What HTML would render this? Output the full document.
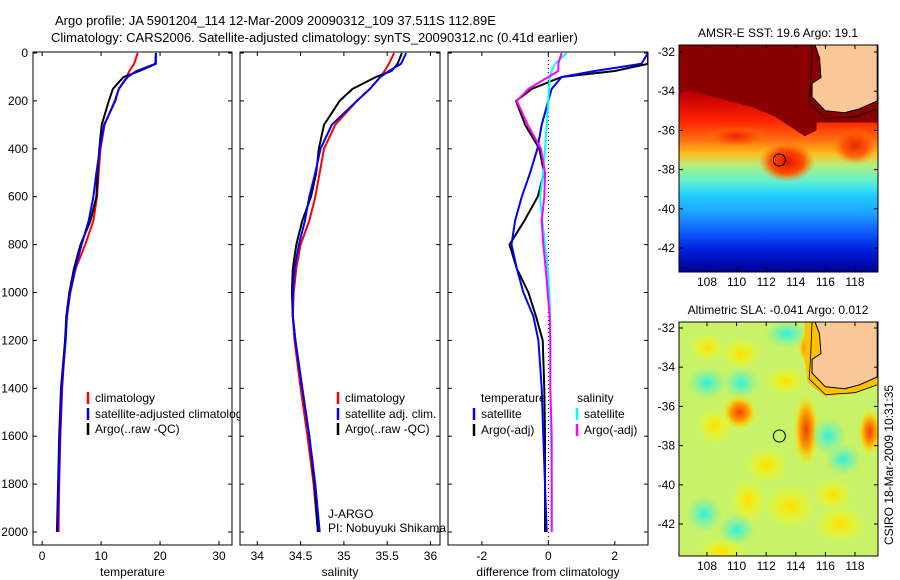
<!DOCTYPE html>
<html><head><meta charset="utf-8"><style>
body{margin:0;background:#fff}
svg{display:block;font-family:"Liberation Sans",sans-serif}
</style></head><body>
<svg id="fig" width="900" height="580" viewBox="0 0 900 580" xmlns="http://www.w3.org/2000/svg">
<defs>
<linearGradient id="sstg" x1="0" y1="0" x2="0" y2="1">
<stop offset="0" stop-color="#a00000"/><stop offset="0.22" stop-color="#c00000"/>
<stop offset="0.33" stop-color="#ff2000"/><stop offset="0.42" stop-color="#ff7010"/>
<stop offset="0.48" stop-color="#ffc020"/><stop offset="0.53" stop-color="#b0f080"/>
<stop offset="0.6" stop-color="#60f0d0"/><stop offset="0.66" stop-color="#20d0ff"/>
<stop offset="0.74" stop-color="#20a0ff"/><stop offset="0.82" stop-color="#1060ff"/>
<stop offset="0.9" stop-color="#0020e0"/><stop offset="1" stop-color="#000090"/></linearGradient>
<radialGradient id="bOr"><stop offset="0" stop-color="#f04000"/><stop offset="0.5" stop-color="#ffa000"/><stop offset="1" stop-color="#ffff00" stop-opacity="0"/></radialGradient>
<radialGradient id="bYe"><stop offset="0" stop-color="#ffe000"/><stop offset="1" stop-color="#ffff00" stop-opacity="0"/></radialGradient>
<radialGradient id="bCy"><stop offset="0" stop-color="#30f0e0"/><stop offset="1" stop-color="#60f0c0" stop-opacity="0"/></radialGradient>
<radialGradient id="bRd"><stop offset="0" stop-color="#e01000"/><stop offset="0.6" stop-color="#ff5000"/><stop offset="1" stop-color="#ff8000" stop-opacity="0"/></radialGradient>
<clipPath id="c1"><rect x="679" y="45" width="199" height="227"/></clipPath>
<clipPath id="c2"><rect x="679" y="322" width="199" height="234"/></clipPath>
</defs>
<text x="55" y="25" font-size="13">Argo profile: JA 5901204_114 12-Mar-2009 20090312_109 37.511S 112.89E</text>
<text x="51" y="42" font-size="13">Climatology: CARS2006. Satellite-adjusted climatology: synTS_20090312.nc (0.41d earlier)</text>
<g id="panels"></g>
<g id="maps"></g>
<text font-size="12" transform="translate(893,545) rotate(-90)">CSIRO 18-Mar-2009 10:31:35</text>
</svg>
<script>
const depths=[0,45,75,100,150,200,300,400,500,600,700,800,900,1000,1100,1200,1400,1600,1800,2000];
const tempClim=[16.2,15.6,14.8,14.3,13.0,12.3,10.6,9.9,9.6,9.3,8.7,7.3,5.7,4.8,4.2,3.9,3.4,3.1,2.9,2.8];
const tempSat=[19.3,19.2,16.0,14.5,13.0,12.4,10.5,9.8,9.2,8.7,7.9,6.7,5.6,4.7,4.2,4.0,3.3,3.0,2.8,2.6];
const tempArgo=[19.3,19.3,16.5,13.8,12.0,11.3,10.1,9.7,9.4,9.2,8.2,6.5,5.4,4.6,4.1,3.9,3.2,2.9,2.7,2.5];
const salClim=[35.58,35.52,35.47,35.42,35.3,35.15,34.9,34.77,34.72,34.67,34.6,34.5,34.45,34.42,34.41,34.43,34.5,34.58,34.65,34.7];
const salSat=[35.72,35.66,35.52,35.42,35.3,35.15,34.86,34.73,34.67,34.6,34.55,34.48,34.43,34.41,34.41,34.44,34.52,34.6,34.67,34.72];
const salArgo=[35.67,35.62,35.55,35.37,35.1,34.95,34.77,34.71,34.68,34.62,34.52,34.45,34.41,34.4,34.41,34.44,34.52,34.6,34.66,34.7];
const dTempSat=[3.0,2.8,1.4,0.4,0.1,0.0,-0.2,-0.33,-0.55,-0.8,-1.0,-1.11,-0.95,-0.75,-0.45,-0.3,-0.2,-0.15,-0.1,-0.05];
const dTempArgo=[3.0,3.0,2.0,0.4,-0.5,-0.97,-0.7,-0.27,-0.13,-0.32,-0.72,-1.17,-0.95,-0.6,-0.37,-0.17,-0.12,-0.1,-0.1,-0.1];
const dSalSat=[0.55,0.2,0.1,0.05,0.02,0,-0.05,-0.1,-0.15,-0.25,-0.18,-0.1,-0.02,0.03,0.06,0.06,0.06,0.08,0.1,0.1];
const dSalArgo=[0.4,0.3,0.3,0.0,-0.6,-0.95,-0.62,-0.22,-0.1,-0.12,-0.2,-0.15,-0.08,-0.02,0.04,0.06,0.06,0.1,0.1,0.1];
const depthTicks=[0,200,400,600,800,1000,1200,1400,1600,1800,2000];
const tempTicks=[0,10,20,30];
const salTicks=[34,34.5,35,35.5,36];
const salTickLabels=["34","34.5","35","35.5","36"];
const diffTicks=[-2,0,2];
const lonTicks=[108,110,112,114,116,118];
const latTicks=[-32,-34,-36,-38,-40,-42];
const argoPos=[112.89,-37.511];

const NS='http://www.w3.org/2000/svg';
function mk(tag,attrs,parent){const e=document.createElementNS(NS,tag);for(const k in attrs)e.setAttribute(k,attrs[k]);parent.appendChild(e);return e;}
const yD=d=>53+d*0.2395;
const TOP=52,BOT=545;
const panelsG=document.getElementById('panels');
const panels=[
 {name:'temperature',x0:33,x1:232,v0:-1.55,v1:32.2,ticks:tempTicks,labels:tempTicks.map(String),xlabel:'temperature'},
 {name:'salinity',x0:240,x1:440,v0:33.8,v1:36.11,ticks:salTicks,labels:salTickLabels,xlabel:'salinity'},
 {name:'difference',x0:448,x1:648,v0:-3.02,v1:3.0,ticks:diffTicks,labels:diffTicks.map(String),xlabel:'difference from climatology'}];
function line(g,p,vals,color,name,w){
 const sx=v=>p.x0+(v-p.v0)/(p.v1-p.v0)*(p.x1-p.x0);
 let d='';vals.forEach((v,i)=>{d+=(i?'L':'M')+sx(v).toFixed(1)+','+yD(depths[i]).toFixed(1);});
 const e=mk('path',{d:d,fill:'none',stroke:color,'stroke-width':w||2,'stroke-linejoin':'round'},g);
 
 
}
function legend(g,x,y,color,txt,name){
 if(color){const m=mk('line',{x1:x,y1:y-10,x2:x,y2:y+2,stroke:color,'stroke-width':2.5},g);
 
 }
 const t=mk('text',{x:x+7,y:y,'font-size':12},g);t.textContent=txt;
 
 
}
panels.forEach((p,pi)=>{
 const g=mk('g',{},panelsG);
 
 
 mk('rect',{x:p.x0,y:TOP,width:p.x1-p.x0,height:BOT-TOP,fill:'#fff',stroke:'none'},g);
 const sx=v=>p.x0+(v-p.v0)/(p.v1-p.v0)*(p.x1-p.x0);
 const cp=mk('clipPath',{id:'pc'+pi},g);mk('rect',{x:p.x0,y:TOP,width:p.x1-p.x0,height:BOT-TOP},cp);
 const lg=mk('g',{'clip-path':'url(#pc'+pi+')'},g);
 if(pi==0){line(lg,p,tempClim,'#f00','temp-climatology-line');line(lg,p,tempArgo,'#000','temp-argo-line');line(lg,p,tempSat,'#00f','temp-satellite-line');
  legend(g,88,402,'#f00','climatology','legend-climatology');legend(g,88,418,'#00f','satellite-adjusted climatology','legend-satellite');legend(g,88,433,'#000','Argo(..raw -QC)','legend-argo');}
 if(pi==1){line(lg,p,salClim,'#f00','sal-climatology-line');line(lg,p,salArgo,'#000','sal-argo-line');line(lg,p,salSat,'#00f','sal-satellite-line');
  legend(g,338,402,'#f00','climatology','legend-climatology-sal');legend(g,338,418,'#00f','satellite adj. clim.','legend-satellite-sal');legend(g,338,433,'#000','Argo(..raw -QC)','legend-argo-sal');
  const t1=mk('text',{x:328,y:518,'font-size':12},g);t1.textContent='J-ARGO';
  const t2=mk('text',{x:328,y:532,'font-size':12},g);t2.textContent='PI: Nobuyuki Shikama';}
 if(pi==2){mk('line',{x1:sx(0),y1:TOP,x2:sx(0),y2:BOT,stroke:'#000','stroke-width':1,'stroke-dasharray':'1,3'},lg);
  line(lg,p,dTempArgo,'#000','diff-temp-argo-line');line(lg,p,dTempSat,'#00f','diff-temp-satellite-line');line(lg,p,dSalSat,'#0ff','diff-sal-satellite-line');line(lg,p,dSalArgo,'#f0f','diff-sal-argo-line');
  legend(g,474,402,null,'temperature','legend-temperature-header');legend(g,570,402,null,'salinity','legend-salinity-header');
  legend(g,474,418,'#00f','satellite','legend-temp-satellite');legend(g,474,434,'#000','Argo(-adj)','legend-temp-argo');
  legend(g,577,418,'#0ff','satellite','legend-sal-satellite');legend(g,577,434,'#f0f','Argo(-adj)','legend-sal-argo');}
 mk('rect',{x:p.x0,y:TOP,width:p.x1-p.x0,height:BOT-TOP,fill:'none',stroke:'#000','stroke-width':1},g);
 depthTicks.forEach(d=>{mk('line',{x1:p.x0,y1:yD(d),x2:p.x0+4,y2:yD(d),stroke:'#000'},g);mk('line',{x1:p.x1,y1:yD(d),x2:p.x1-4,y2:yD(d),stroke:'#000'},g);
  if(pi==0){const t=mk('text',{x:p.x0-5,y:yD(d)+4,'font-size':12,'text-anchor':'end'},g);t.textContent=d;}});
 p.ticks.forEach((v,i)=>{const x=sx(v);mk('line',{x1:x,y1:BOT,x2:x,y2:BOT-4,stroke:'#000'},g);mk('line',{x1:x,y1:TOP,x2:x,y2:TOP+4,stroke:'#000'},g);
  const t=mk('text',{x:x,y:560,'font-size':12,'text-anchor':'middle'},g);t.textContent=p.labels[i];});
 const xl=mk('text',{x:(p.x0+p.x1)/2,y:576,'font-size':12,'text-anchor':'middle'},g);xl.textContent=p.xlabel;
 
 
});

// maps
const mapsG=document.getElementById('maps');
const mx=lon=>707+(lon-108)*14.8;
function drawMap(top,bot,title,kind){
 const g=mk('g',{},mapsG);
 
 
 const lat0=top===45?52:328;
 const my=lat=>lat0+(-32-lat)*19.6;
 const inner=mk('g',{'clip-path':kind==='sst'?'url(#c1)':'url(#c2)'},g);
 if(kind==='sst'){
  mk('rect',{x:679,y:top,width:199,height:bot-top,fill:'url(#sstg)'},inner);
  mk('path',{d:`M679,${top}L${mx(115.4)},${top}L${mx(115.4)},${my(-36.0)}L${mx(114.6)},${my(-36.3)}L${mx(113.6)},${my(-35.8)}L${mx(112.6)},${my(-35.3)}L${mx(111)},${my(-34.8)}L${mx(109)},${my(-34.4)}L${mx(107.5)},${my(-34.1)}L679,${my(-33.9)}Z`,fill:'#8a0000'},inner);
  mk('rect',{x:mx(115.2),y:top,width:100,height:my(-35.6)-top,fill:'#8a0000'},inner);
  mk('ellipse',{cx:mx(113.4),cy:my(-37.6),rx:28,ry:20,fill:'url(#bRd)'},inner);
  mk('ellipse',{cx:mx(118),cy:my(-36.8),rx:22,ry:18,fill:'url(#bRd)',opacity:0.8},inner);
  mk('ellipse',{cx:mx(110),cy:my(-36.3),rx:30,ry:10,fill:'url(#bRd)',opacity:0.7},inner);
 }else{
  mk('rect',{x:679,y:top,width:199,height:bot-top,fill:'#c8f268'},inner);
  [[108,-33,18,14,'bYe'],[110.3,-33.3,20,16,'bYe'],[113.3,-34.7,20,14,'bYe'],[108,-34.8,20,16,'bCy'],[110.3,-34.8,18,16,'bCy'],[113.4,-32.3,22,14,'bCy'],
   [110.2,-36.3,18,18,'bOr'],[114.7,-37.2,13,38,'bOr'],[114.9,-33,12,18,'bOr'],[116.2,-37.5,18,18,'bCy'],[117.2,-38.7,18,16,'bCy'],
   [112,-39,22,18,'bYe'],[113.6,-41.1,26,22,'bYe'],[110.8,-40.8,18,22,'bYe'],[107.8,-41.5,18,18,'bCy'],[110,-42.3,18,16,'bCy'],[109,-43.4,24,14,'bYe'],[119,-37.3,12,24,'bOr'],[117,-42,26,18,'bYe'],[116.5,-40.5,20,16,'bYe'],[108.5,-37,18,18,'bYe']]
   .forEach(b=>mk('ellipse',{cx:mx(b[0]),cy:my(b[1]),rx:b[2],ry:b[3],fill:`url(#${b[4]})`},inner));
  mk('path',{d:`M${mx(114.6)},${top}L${mx(114.6)},${my(-33.6)}L${mx(114.8)},${my(-34.8)}L${mx(116)},${my(-35.5)}L${mx(118)},${my(-35.3)}L${mx(119.5)},${my(-34.9)}L${mx(119.5)},${top}Z`,fill:'#ffc000'},inner);
 }
 mk('path',{d:`M${mx(115.3)},${top}L${mx(115.6)},${my(-32.3)}L${mx(115.7)},${my(-33.3)}L${mx(115.1)},${my(-33.6)}L${mx(115.1)},${my(-34.3)}L${mx(116)},${my(-35)}L${mx(117.3)},${my(-35.1)}L${mx(118.3)},${my(-34.9)}L${mx(119.5)},${my(-34.5)}L${mx(119.5)},${top}Z`,fill:'#fac896',stroke:'#000','stroke-width':1},inner);
 mk('path',{d:`M${mx(115.1)},${top}L${mx(115.0)},${my(-33.5)}L${mx(114.9)},${my(-34.6)}L${mx(116)},${my(-35.4)}L${mx(118)},${my(-35.3)}L${mx(119.5)},${my(-34.9)}`,fill:'none',stroke:'#000','stroke-width':0.8},inner);
 const c=mk('circle',{cx:mx(argoPos[0]),cy:my(argoPos[1]),r:6,fill:'none',stroke:'#000','stroke-width':1},inner);
 
 
 mk('rect',{x:679,y:top,width:199,height:bot-top,fill:'none',stroke:'#000'},g);
 lonTicks.forEach(l=>{mk('line',{x1:mx(l),y1:bot,x2:mx(l),y2:bot-4,stroke:'#000'},g);mk('line',{x1:mx(l),y1:top,x2:mx(l),y2:top+4,stroke:'#000'},g);
  const t=mk('text',{x:mx(l),y:bot+14,'font-size':12,'text-anchor':'middle'},g);t.textContent=l;});
 latTicks.forEach(l=>{mk('line',{x1:679,y1:my(l),x2:683,y2:my(l),stroke:'#000'},g);mk('line',{x1:878,y1:my(l),x2:874,y2:my(l),stroke:'#000'},g);
  const t=mk('text',{x:675,y:my(l)+4,'font-size':12,'text-anchor':'end'},g);t.textContent=l;});
 const tt=mk('text',{x:778,y:top-8,'font-size':12,'text-anchor':'middle'},g);tt.textContent=title;
 
 
}
drawMap(45,272,'AMSR-E SST: 19.6 Argo: 19.1','sst');
drawMap(322,556,'Altimetric SLA: -0.041 Argo: 0.012','sla');
</script>
</body></html>
